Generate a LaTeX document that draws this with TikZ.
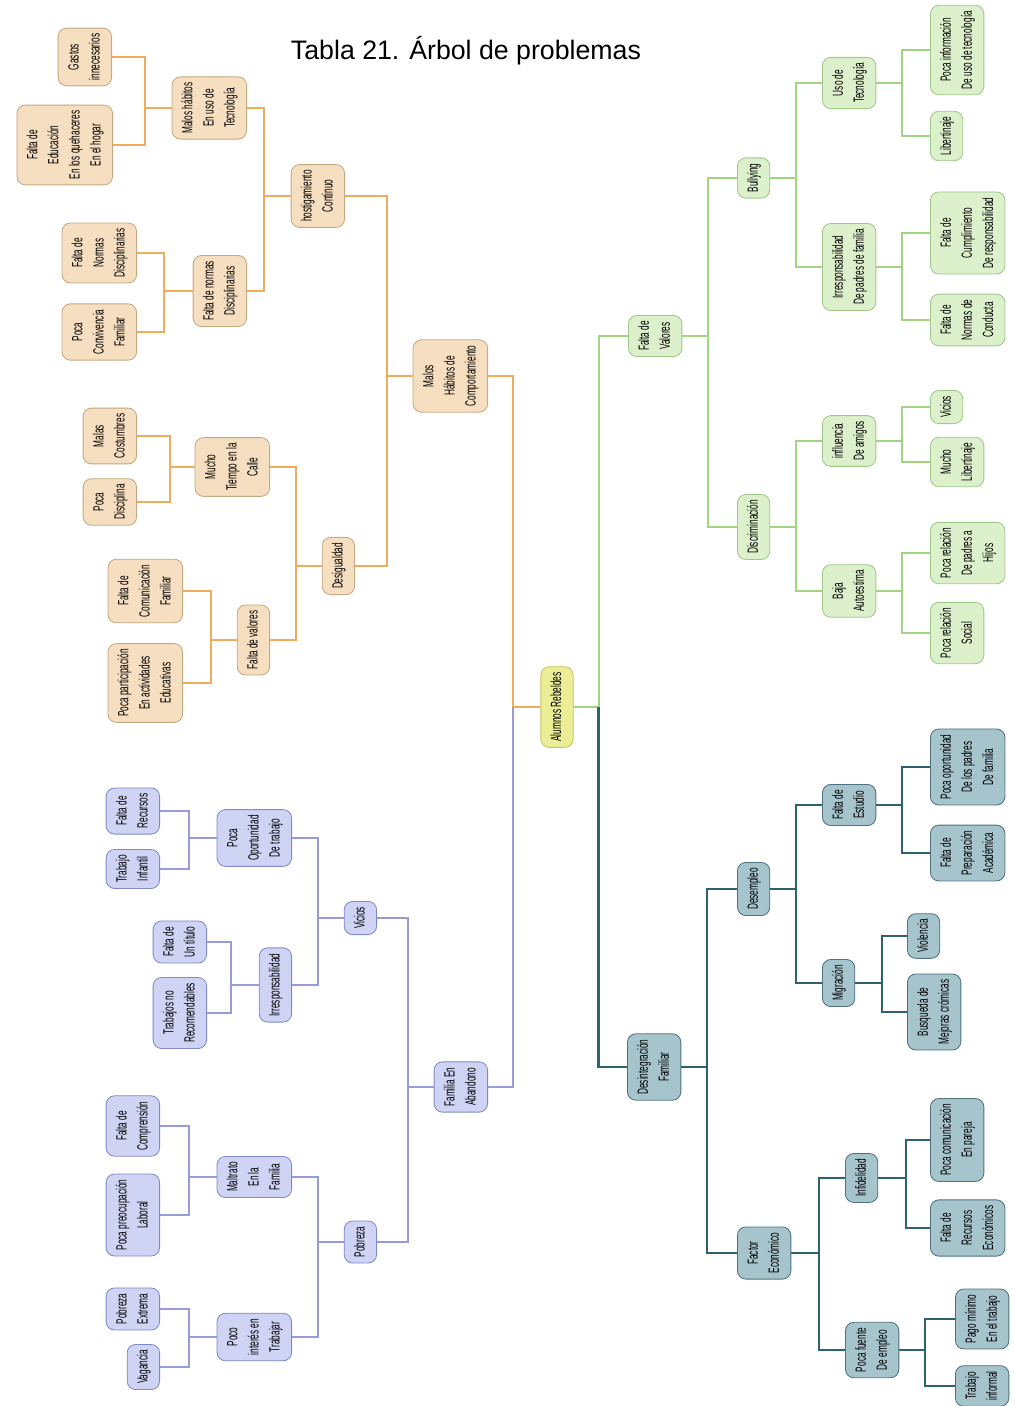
\documentclass[tikz,border=0pt]{standalone}
\usepackage{fontspec}
\setmainfont{Liberation Sans}
\newfontfamily\nodefont{Liberation Sans}[FakeStretch=0.56]
\usepackage{graphicx}
\usepackage{xcolor}
\usetikzlibrary{positioning}

\definecolor{orfill}{RGB}{246,222,192}
\definecolor{ordraw}{RGB}{196,168,128}
\definecolor{orline}{RGB}{240,172,92}
\definecolor{grfill}{RGB}{221,240,204}
\definecolor{grdraw}{RGB}{158,200,138}
\definecolor{grline}{RGB}{160,214,130}
\definecolor{blfill}{RGB}{208,212,244}
\definecolor{bldraw}{RGB}{128,138,198}
\definecolor{blline}{RGB}{150,156,216}
\definecolor{tefill}{RGB}{166,196,204}
\definecolor{tedraw}{RGB}{78,114,126}
\definecolor{teline}{RGB}{46,98,110}
\definecolor{rtfill}{RGB}{236,238,150}
\definecolor{rtdraw}{RGB}{196,196,90}

\renewcommand\arraystretch{1}
\newcommand\rt[1]{\rotatebox{90}{\begin{tabular}{@{}c@{}}#1\end{tabular}}}

\tikzset{
  box/.style={draw,rounded corners=6pt,inner sep=4pt,line width=0.6pt,
    font=\nodefont\fontsize{10.5}{15}\selectfont,text=black},
  obox/.style={box,fill=orfill,draw=ordraw},
  gbox/.style={box,fill=grfill,draw=grdraw},
  bbox/.style={box,fill=blfill,draw=bldraw},
  tbox/.style={box,fill=tefill,draw=tedraw},
  rbox/.style={box,fill=rtfill,draw=rtdraw},
  oline/.style={draw=orline,line width=1.4pt},
  gline/.style={draw=grline,line width=1.4pt},
  bline/.style={draw=blline,line width=1.5pt},
  tline/.style={draw=teline,line width=1.6pt},
}

\begin{document}
\begin{tikzpicture}[x=0.025cm,y=-0.025cm]
\useasboundingbox (0,0) rectangle (1013,1406);

\node[font=\fontsize{19}{22}\selectfont] (title) at (466,51) {Tabla 21. Árbol de problemas};

% raiz
\node[rbox] (root) at (557,707) {\rt{Alumnos Rebeldes}};

% rama naranja
\node[obox,anchor=east] (mh) at (488,376) {\rt{Malos\\Hábitos de\\Comportamiento}};
\node[obox,anchor=east] (hc) at (345,196) {\rt{hostigamiento\\Continuo}};
\node[obox,anchor=east] (dg) at (355,566) {\rt{Desigualdad}};
\node[obox,anchor=east] (mt) at (247,108) {\rt{Malos hábitos\\En uso de\\Tecnología}};
\node[obox,anchor=east] (fn) at (247,291) {\rt{Falta de normas\\Disciplinarias}};
\node[obox,anchor=east] (mc) at (270,467) {\rt{Mucho\\Tiempo en la\\Calle}};
\node[obox,anchor=east] (fvo) at (270,640) {\rt{Falta de valores}};
\node[obox,anchor=east] (gi) at (112,57) {\rt{Gastos\\innecesarios}};
\node[obox,anchor=east] (fe) at (113,145) {\rt{Falta de\\Educación\\En los quehaceres\\En el hogar}};
\node[obox,anchor=east] (fnd) at (137,253) {\rt{Falta de\\Normas\\Disciplinarias}};
\node[obox,anchor=east] (pc) at (137,332) {\rt{Poca\\Convivencia\\Familiar}};
\node[obox,anchor=east] (mcs) at (137,436) {\rt{Malas\\Costumbres}};
\node[obox,anchor=east] (pd) at (137,502) {\rt{Poca\\Disciplina}};
\node[obox,anchor=east] (fcf) at (183,591) {\rt{Falta de\\Comunicación\\Familiar}};
\node[obox,anchor=east] (ppa) at (183,683) {\rt{Poca participación\\En actividades\\Educativas}};

% rama verde
\node[gbox,anchor=west] (fvg) at (628,336) {\rt{Falta de\\Valores}};
\node[gbox,anchor=west] (bu) at (737,178) {\rt{Bullying}};
\node[gbox,anchor=west] (di) at (737,527) {\rt{Discriminación}};
\node[gbox,anchor=west] (ut) at (822,83) {\rt{Uso de\\Tecnología}};
\node[gbox,anchor=west] (ip) at (822,267) {\rt{Irresponsabilidad\\De padres de familia}};
\node[gbox,anchor=west] (ia) at (822,441) {\rt{influencia\\De amigos}};
\node[gbox,anchor=west] (ba) at (822,591) {\rt{Baja\\Autoestima}};
\node[gbox,anchor=west] (pi) at (930,50) {\rt{Poca información\\De uso de tecnología}};
\node[gbox,anchor=west] (li) at (930,136) {\rt{Libertinaje}};
\node[gbox,anchor=west] (fc) at (930,233) {\rt{Falta de\\Cumplimiento\\De responsabilidad}};
\node[gbox,anchor=west] (fnc) at (930,320) {\rt{Falta de\\Normas de\\Conducta}};
\node[gbox,anchor=west] (vg) at (930,407) {\rt{Vicios}};
\node[gbox,anchor=west] (ml) at (930,462) {\rt{Mucho\\Libertinaje}};
\node[gbox,anchor=west] (prh) at (930,553) {\rt{Poca relación\\De padres a\\Hijos}};
\node[gbox,anchor=west] (prs) at (930,633) {\rt{Poca relación\\Social}};

% rama azul
\node[bbox,anchor=east] (fa) at (488,1087) {\rt{Familia En\\Abandono}};
\node[bbox,anchor=east] (vi) at (377,918) {\rt{Vicios}};
\node[bbox,anchor=east] (po) at (377,1242) {\rt{Pobreza}};
\node[bbox,anchor=east] (pot) at (292,838) {\rt{Poca\\Oportunidad\\De trabajo}};
\node[bbox,anchor=east] (ir) at (292,985) {\rt{Irresponsabilidad}};
\node[bbox,anchor=east] (mf) at (292,1177) {\rt{Maltrato\\En la\\Familia}};
\node[bbox,anchor=east] (pit) at (292,1337) {\rt{Poco\\interés en\\Trabajar}};
\node[bbox,anchor=east] (fr) at (160,811) {\rt{Falta de\\Recursos}};
\node[bbox,anchor=east] (ti) at (160,869) {\rt{Trabajo\\Infantil}};
\node[bbox,anchor=east] (ft) at (207,942) {\rt{Falta de\\Un título}};
\node[bbox,anchor=east] (tr) at (207,1013) {\rt{Trabajos no\\Recomendables}};
\node[bbox,anchor=east] (fco) at (160,1126) {\rt{Falta de\\Comprensión}};
\node[bbox,anchor=east] (ppl) at (160,1215) {\rt{Poca preocupación\\Laboral}};
\node[bbox,anchor=east] (pe) at (160,1309) {\rt{Pobreza\\Extrema}};
\node[bbox,anchor=east] (va) at (160,1367) {\rt{Vagancia}};

% rama teal
\node[tbox,anchor=west] (df) at (627,1067) {\rt{Desintegración\\Familiar}};
\node[tbox,anchor=west] (de) at (737,889) {\rt{Desempleo}};
\node[tbox,anchor=west] (fec) at (737,1253) {\rt{Factor\\Económico}};
\node[tbox,anchor=west] (fes) at (822,805) {\rt{Falta de\\Estudio}};
\node[tbox,anchor=west] (mi) at (822,983) {\rt{Migración}};
\node[tbox,anchor=west] (inf) at (845,1178) {\rt{Infidelidad}};
\node[tbox,anchor=west] (pf) at (845,1350) {\rt{Poca fuente\\De empleo}};
\node[tbox,anchor=west] (pop) at (930,767) {\rt{Poca oportunidad\\De los padres\\De familia}};
\node[tbox,anchor=west] (fpa) at (930,853) {\rt{Falta de\\Preparación\\Académica}};
\node[tbox,anchor=west] (vio) at (907,936) {\rt{Violencia}};
\node[tbox,anchor=west] (bm) at (907,1012) {\rt{Busqueda de\\Mejoras crómicas}};
\node[tbox,anchor=west] (pcp) at (930,1140) {\rt{Poca comunicación\\En pareja}};
\node[tbox,anchor=west] (fre) at (930,1228) {\rt{Falta de\\Recursos\\Económicos}};
\node[tbox,anchor=west] (pm) at (955,1319) {\rt{Pago mínimo\\En el trabajo}};
\node[tbox,anchor=west] (tin) at (955,1386) {\rt{Trabajo\\informal}};

% conectores
\draw[oline] (root.west) -- ++(-27.5,0) coordinate (r1) |- (mh.east);
\draw[bline] (r1) |- (fa.east);
\draw[gline] (root.east) -- ++(25,0) coordinate (r2) |- (fvg.west);
\draw[tline] (r2) |- (df.west);

\draw[oline] (mh.west) -- ++(-26,0) coordinate (o1) |- (hc.east) (o1) |- (dg.east);
\draw[oline] (hc.west) -- ++(-27,0) coordinate (o2) |- (mt.east) (o2) |- (fn.east);
\draw[oline] (dg.west) -- ++(-26,0) coordinate (o3) |- (mc.east) (o3) |- (fvo.east);
\draw[oline] (mt.west) -- ++(-27,0) coordinate (o4) |- (gi.east) (o4) |- (fe.east);
\draw[oline] (fn.west) -- ++(-29,0) coordinate (o5) |- (fnd.east) (o5) |- (pc.east);
\draw[oline] (mc.west) -- ++(-25,0) coordinate (o6) |- (mcs.east) (o6) |- (pd.east);
\draw[oline] (fvo.west) -- ++(-26,0) coordinate (o7) |- (fcf.east) (o7) |- (ppa.east);

\draw[gline] (fvg.east) -- ++(26,0) coordinate (g1) |- (bu.west) (g1) |- (di.west);
\draw[gline] (bu.east) -- ++(26,0) coordinate (g2) |- (ut.west) (g2) |- (ip.west);
\draw[gline] (di.east) -- ++(26,0) coordinate (g3) |- (ia.west) (g3) |- (ba.west);
\draw[gline] (ut.east) -- ++(26,0) coordinate (g4) |- (pi.west) (g4) |- (li.west);
\draw[gline] (ip.east) -- ++(26,0) coordinate (g5) |- (fc.west) (g5) |- (fnc.west);
\draw[gline] (ia.east) -- ++(26,0) coordinate (g6) |- (vg.west) (g6) |- (ml.west);
\draw[gline] (ba.east) -- ++(26,0) coordinate (g7) |- (prh.west) (g7) |- (prs.west);

\draw[bline] (fa.west) -- ++(-26,0) coordinate (b1) |- (vi.east) (b1) |- (po.east);
\draw[bline] (vi.west) -- ++(-26,0) coordinate (b2) |- (pot.east) (b2) |- (ir.east);
\draw[bline] (po.west) -- ++(-26,0) coordinate (b3) |- (mf.east) (b3) |- (pit.east);
\draw[bline] (pot.west) -- ++(-28,0) coordinate (b4) |- (fr.east) (b4) |- (ti.east);
\draw[bline] (ir.west) -- ++(-28,0) coordinate (b5) |- (ft.east) (b5) |- (tr.east);
\draw[bline] (mf.west) -- ++(-28,0) coordinate (b6) |- (fco.east) (b6) |- (ppl.east);
\draw[bline] (pit.west) -- ++(-28,0) coordinate (b7) |- (pe.east) (b7) |- (va.east);

\draw[tline] (df.east) -- ++(26,0) coordinate (t1) |- (de.west) (t1) |- (fec.west);
\draw[tline] (de.east) -- ++(26,0) coordinate (t2) |- (fes.west) (t2) |- (mi.west);
\draw[tline] (fec.east) -- ++(28,0) coordinate (t3) |- (inf.west) (t3) |- (pf.west);
\draw[tline] (fes.east) -- ++(26,0) coordinate (t4) |- (pop.west) (t4) |- (fpa.west);
\draw[tline] (mi.east) -- ++(27,0) coordinate (t5) |- (vio.west) (t5) |- (bm.west);
\draw[tline] (inf.east) -- ++(28,0) coordinate (t6) |- (pcp.west) (t6) |- (fre.west);
\draw[tline] (pf.east) -- ++(26,0) coordinate (t7) |- (pm.west) (t7) |- (tin.west);
\end{tikzpicture}
\end{document}
